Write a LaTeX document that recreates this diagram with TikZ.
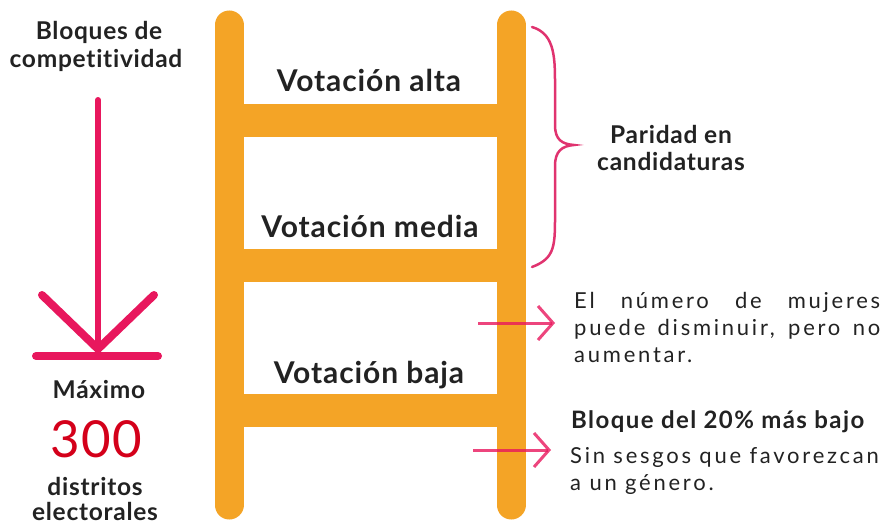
\documentclass[tikz,border=0pt]{standalone}
\usepackage{fontspec}
\setmainfont{Lato}
\newfontfamily\widefont[LetterSpace=3,Ligatures=NoCommon]{Lato}
\newfontfamily\boldwide[LetterSpace=6,Ligatures=NoCommon]{Lato}
\newfontfamily\notefont[LetterSpace=12.5,Ligatures=NoCommon]{Lato}
\usetikzlibrary{arrows.meta}
\definecolor{ladder}{HTML}{F4A426}
\definecolor{pinkarrow}{HTML}{E8175D}
\definecolor{bracepink}{HTML}{E0336F}
\definecolor{bigred}{HTML}{D4001A}
\definecolor{txt}{HTML}{222222}
\tikzset{
  rail/.style={line width=29pt, ladder, line cap=round},
  rung/.style={line width=33pt, ladder},
  rungtext/.style={font=\widefont\fontsize{30}{34}\selectfont\bfseries, text=txt, inner sep=0pt, anchor=base},
  sidetext/.style={font=\widefont\fontsize{24.5}{27}\selectfont\bfseries, text=txt, inner sep=0pt, anchor=base},
  note/.style={font=\notefont\fontsize{22}{27}\selectfont, text=txt, inner sep=0pt, anchor=base west},
  thinarrow/.style={line width=3pt, pinkarrow, opacity=0.8, -{Straight Barb[length=15pt,width=34pt,line width=3pt]}},
  bigarrow/.style={line width=8pt, pinkarrow, line cap=round},
}
\begin{document}
\begin{tikzpicture}[x=1pt,y=-1pt]
\useasboundingbox (0,0) rectangle (883,527);
% ladder
\coordinate (LT) at (229,25); \coordinate (LB) at (229,505);
\coordinate (RT) at (511,25); \coordinate (RB) at (511,505);
\draw[rung] (229,120) -- (511,120);
\draw[rung] (229,265) -- (511,265);
\draw[rung] (229,410) -- (511,410);
\draw[rail] (LT) -- (LB);
\draw[rail] (RT) -- (RB);
\node[rungtext] (alta) at (369,92) {Votación alta};
\node[rungtext] (media) at (370,237) {Votación media};
\node[rungtext] (baja) at (369,383) {Votación baja};
% left side
\node[sidetext] (bloques) at (99,40) {Bloques de};
\node[sidetext] (compet) at (96,67) {competitividad};
\coordinate (Atop) at (98,100);
\coordinate (Atip) at (98,349);
\draw[bigarrow, line width=6pt] (Atop) -- (Atip);
\draw[bigarrow] (42,295) -- (Atip) -- (154,295);
\draw[bigarrow] (36,356) -- (158,356);
\node[sidetext] (maximo) at (99,398) {Máximo};
\node[font=\widefont\fontsize{51}{55}\selectfont, text=bigred, inner sep=0pt, anchor=base] (tres) at (96,457) {300};
\node[sidetext] (distritos) at (95,495) {distritos};
\node[sidetext] (electorales) at (95,520) {electorales};
% brace
\draw[bracepink, line width=2.5pt, line cap=round]
  (532,27) .. controls (556,34) and (555,60) .. (555,90)
  -- (555,125) .. controls (555,140) and (562,144) .. (574,145)
  .. controls (562,146) and (555,151) .. (555,166)
  -- (555,210) .. controls (555,245) and (556,258) .. (532,267);
\node[sidetext] (paridad) at (671,143) {Paridad en};
\node[sidetext] (candid) at (671,170) {candidaturas};
% arrows right
\coordinate (a1s) at (478,323); \coordinate (a1e) at (555,323);
\draw[thinarrow] (a1s) -- (a1e);
\coordinate (a2s) at (473,450); \coordinate (a2e) at (551,450);
\draw[thinarrow] (a2s) -- (a2e);
\node[note] (n1a) at (574,308) {\makebox[306pt][s]{El número de mujeres}};
\node[note] (n1b) at (574,335) {\makebox[306pt][s]{puede disminuir, pero no}};
\node[note] (n1c) at (574,362) {aumentar.};
\node[font=\boldwide\fontsize{24}{27}\selectfont\bfseries, text=txt, inner sep=0pt, anchor=base west] (b20) at (571,428) {Bloque del 20\% más bajo};
\node[note] (n2a) at (570,463) {Sin sesgos que favorezcan};
\node[note] (n2b) at (570,490) {a un género.};
\end{tikzpicture}
\end{document}
